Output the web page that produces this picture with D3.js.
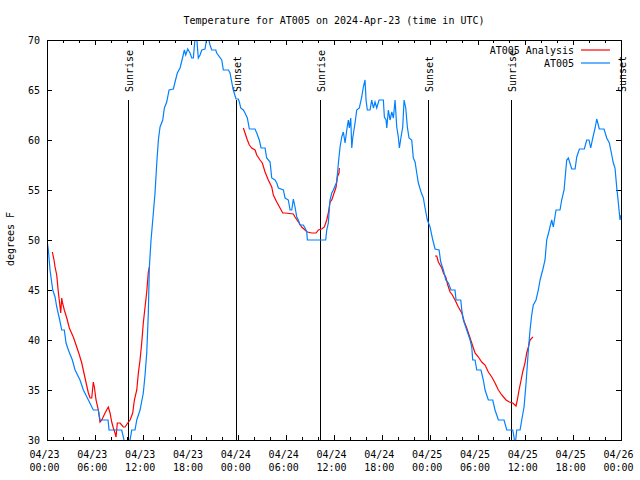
<!DOCTYPE html>
<html><head><meta charset="utf-8">
<script src="https://cdn.jsdelivr.net/npm/d3@7"></script>
<style>
body{margin:0;background:#fff}
text{font-family:"DejaVu Sans Mono","Liberation Mono",monospace;font-size:10px;fill:#000}
</style>
</head><body>
<svg id="c" width="640" height="480"></svg>
<script>
const title = "Temperature for AT005 on 2024-Apr-23 (time in UTC)";
const yLabel = "degrees F";
const seriesNames = ["AT005 Analysis", "AT005"];
const seriesColors = ["#ff0000", "#0080ff"];
const yTicks = [30, 35, 40, 45, 50, 55, 60, 65, 70];
const xTickHours = [0, 6, 12, 18, 24, 30, 36, 42, 48, 54, 60, 66, 72];
const xTickDates = ["04/23","04/23","04/23","04/23","04/24","04/24","04/24","04/24","04/25","04/25","04/25","04/25","04/26"];
const xTickTimes = ["00:00","06:00","12:00","18:00","00:00","06:00","12:00","18:00","00:00","06:00","12:00","18:00","00:00"];
const sunriseHours = [10.2, 34.28, 58.24];
const sunsetHours = [23.75, 47.83, 71.95];

// AT005 observations: hours since 2024-04-23 00:00 UTC, temperature (F)
const obsHours = [0.00,0.17,0.38,0.72,1.01,1.22,1.51,1.85,2.17,2.39,
2.68,3.18,3.52,4.14,4.56,5.19,5.81,6.44,6.65,7.66,
7.78,9.37,9.66,9.91,10.17,10.42,10.63,11.04,11.26,11.67,
12.08,12.30,12.51,12.71,12.84,13.05,13.34,13.55,13.77,13.97,
14.18,14.52,14.72,15.02,15.31,15.85,16.06,16.35,16.69,17.03,
17.23,17.40,17.65,17.94,18.16,18.36,18.57,18.78,18.98,19.20,
19.41,19.82,20.04,20.24,20.45,20.66,21.17,21.29,21.92,22.12,
22.75,22.96,23.17,23.37,23.71,24.00,24.13,24.30,24.62,24.84,
25.13,25.38,26.09,26.31,26.63,26.85,27.35,27.56,27.98,28.19,
28.60,28.82,29.02,29.65,29.86,30.27,30.49,30.70,30.90,31.11,
31.33,31.53,31.74,32.15,32.37,32.58,32.66,34.96,35.09,35.29,
35.50,35.72,35.92,36.34,36.55,36.76,36.97,37.17,37.39,37.60,
37.80,37.93,38.10,38.23,38.35,38.64,38.85,39.18,39.48,39.68,
39.89,40.02,40.18,40.52,40.73,40.94,41.15,41.36,41.65,42.19,
42.32,42.53,42.62,42.82,43.03,43.25,43.45,43.66,43.87,44.07,
44.20,44.41,44.62,44.79,45.00,45.20,45.41,45.75,45.95,46.17,
46.38,46.58,46.92,47.21,47.42,47.71,48.05,48.39,48.46,48.67,
49.18,49.39,49.72,50.02,50.35,50.68,51.18,51.31,51.90,52.03,
52.23,52.65,53.07,53.28,53.40,53.69,53.91,54.44,54.73,54.95,
55.36,55.91,56.20,56.62,57.33,57.67,58.42,58.58,58.71,58.92,
59.34,59.55,59.84,60.09,60.38,60.59,60.80,61.00,61.34,61.63,
61.85,62.18,62.47,62.68,63.01,63.09,63.31,63.51,63.85,64.35,
64.56,64.86,65.19,65.40,65.82,66.24,66.45,66.78,67.40,67.70,
67.99,68.20,68.46,68.75,68.96,69.28,69.87,70.21,70.54,70.84,
71.04,71.25,71.46,71.67,71.79,71.88,72.00];
const obsTemps = [50,49,47,45,44.3,43.3,42.3,41,41,39.7,
39,38,37,36,35,34,33,33,32,32,
31,31,30,29.3,29.3,30,31,31,32,33,
34.7,36.5,38.7,42.7,47.3,50,52.7,54.7,57.7,60,
61.3,62,63.2,63.8,65,65.1,65.8,66.7,67.2,68.3,
69,68.5,69.1,68.7,68.2,68.2,70.2,70.2,68.2,68.5,
69,69.1,70.2,70.2,69.5,69,69,68.7,68,67,
67,66.7,65.8,65,64.1,64.1,63.8,63.2,63,62.7,
62.2,61.1,61.1,60.7,60,59.2,59.2,58.2,57.8,56.2,
56,55.7,55.2,55,54.2,54,53,53,54.1,53.3,
52.3,52,51.5,51.5,51.2,50.8,50,50,51,51.7,
54,54.7,55,55.8,57.7,59.3,60.3,60.8,59.7,61,
62,61.2,62.2,59.2,60.2,61.7,63,63.2,64.3,65.3,
66,64,63,63,64,63.2,63.8,63.2,64,64,
62.3,62,61.2,63,62,62.8,62.2,64,61.3,60.3,
59.2,60.3,61.3,64,63.2,61.3,60.2,60,58.2,57.8,
56.7,55.7,54.8,54.2,53.2,52,51.3,50,49.8,49.1,
49,47.8,47,46,45.7,45,45,44,44,43,
42,41,40,39.3,38,38,37,37,36,35,
34,34,33,32,32,31,31,30.3,29.3,31,
31,32,33.3,35.7,39,41,42.5,43.5,44,45,
46,47,48,50,51,51.3,52,51.3,53,53,
54,55,58,58.2,57.1,57.1,58.3,59.1,59.1,60,
60,59.2,60.2,61.2,62.1,61.1,61.1,60.2,59.7,58.5,
57.7,57.2,55.3,53.7,52.7,52,52.5];

// AT005 Analysis (null = gap between runs)
const anaHours = [0.67,0.88,1.01,1.22,1.42,1.64,1.72,1.85,1.92,2.17,2.48,2.80,3.30,3.73,4.06,4.36,4.77,5.19,5.40,5.61,5.81,5.94,6.15,6.44,6.65,6.87,7.28,7.69,7.91,8.12,8.32,8.53,8.66,8.82,9.16,9.58,9.79,10.13,10.42,10.75,10.96,11.26,11.46,11.67,11.88,12.08,12.30,12.51,12.71,12.84,
  null,
  24.63,24.84,25.13,25.38,25.68,26.10,26.31,26.72,27.01,27.35,27.76,28.19,28.39,28.82,29.23,29.57,29.86,30.90,31.11,31.53,31.95,32.37,32.66,33.21,33.75,34.04,34.46,34.79,35.09,35.29,35.50,35.72,36.01,36.26,36.42,36.63,36.67,
  null,
  48.67,48.89,49.09,49.30,49.52,49.72,50.02,50.27,50.56,50.85,51.18,51.60,52.03,52.35,52.65,53.07,53.36,53.69,54.11,54.53,54.95,55.36,55.79,56.20,56.62,57.04,57.58,57.99,58.42,58.83,59.00,59.21,59.42,59.67,59.96,60.17,60.38,60.59,60.94];
const anaTemps = [48.8,48,47.3,46.5,44.8,43.3,42.7,44.2,43.8,43,42.2,41.2,40.3,39.3,38.5,37.7,36.2,34.7,34.2,34.2,35.8,35.3,34,33,31.8,32,32.7,33.3,32.7,31.8,31.2,30.7,30.3,31.7,31.7,31.3,31.3,31.7,32,32.7,34,35,36.7,38,39.7,41.7,43.3,44.8,46.8,47.3,
  null,
  61.2,60.7,60,59.5,59.2,59,58.5,58,57.7,56.8,56,55.3,54.5,53.8,53.2,52.7,52.7,52.6,52.3,51.8,51.3,51,50.8,50.7,50.7,51,51.1,51.3,52,52.7,53.8,54,54.7,55.3,56.3,56.7,57.2,
  null,
  48.4,48.4,47.8,47.5,47.2,46.7,46.3,45.5,44.8,44.5,44,43.3,42.7,41.8,41.2,40.2,39.5,38.7,38.3,37.8,37.5,36.8,36.3,35.7,35,34.5,34,33.8,33.7,33.4,34,35,35.8,36.8,37.7,38.7,39.3,40,40.3];

const M = {left: 47, right: 621, top: 40, bottom: 440};
const svg = d3.select("#c");
const x = d3.scaleLinear().domain([0, 72]).range([M.left, M.right]);
const y = d3.scaleLinear().domain([30, 70]).range([M.bottom, M.top]);

svg.append("defs").append("clipPath").attr("id", "clip")
  .append("rect").attr("x", M.left).attr("y", M.top)
  .attr("width", M.right - M.left).attr("height", M.bottom - M.top);

// title
svg.append("text").attr("x", 334).attr("y", 24).attr("text-anchor", "middle").text(title);
// y label
svg.append("text").attr("transform", "translate(14,239) rotate(-90)")
  .attr("text-anchor", "middle").text(yLabel);

const g = svg.append("g");
// y ticks (left and right, inward)
yTicks.forEach(v => {
  const yy = Math.round(y(v)) + 0.5;
  g.append("line").attr("x1", M.left).attr("x2", M.left + 5).attr("y1", yy).attr("y2", yy).attr("stroke", "#000");
  g.append("line").attr("x1", M.right - 5).attr("x2", M.right).attr("y1", yy).attr("y2", yy).attr("stroke", "#000");
  svg.append("text").attr("x", 40).attr("y", y(v) + 4).attr("text-anchor", "end").text(v);
});
// x ticks: minor every 2h, major every 6h
d3.range(0, 73, 2).forEach(h => {
  const len = (h % 6 === 0) ? 5 : 3;
  const xx = Math.round(x(h)) + 0.5;
  g.append("line").attr("x1", xx).attr("x2", xx).attr("y1", M.bottom).attr("y2", M.bottom - len).attr("stroke", "#000");
  g.append("line").attr("x1", xx).attr("x2", xx).attr("y1", M.top).attr("y2", M.top + len).attr("stroke", "#000");
});
xTickHours.forEach((h, i) => {
  const t = svg.append("text").attr("text-anchor", "middle");
  t.append("tspan").attr("x", x(h) - 2.5).attr("y", 458).text(xTickDates[i]);
  t.append("tspan").attr("x", x(h) - 2.5).attr("y", 471).text(xTickTimes[i]);
});

// sunrise / sunset markers
const events = sunriseHours.map(h => ({h, label: "Sunrise"}))
  .concat(sunsetHours.map(h => ({h, label: "Sunset"})));
events.forEach(e => {
  const xx = Math.round(x(e.h)) + 0.5;
  svg.append("line").attr("x1", xx).attr("x2", xx).attr("y1", 100).attr("y2", M.bottom)
    .attr("stroke", "#000").attr("stroke-width", 1);
  svg.append("text").attr("transform", `translate(${x(e.h) + 5},92) rotate(-90)`)
    .attr("text-anchor", "start").text(e.label);
});

// data lines
const line = d3.line().defined(d => d[1] !== null).x(d => x(d[0])).y(d => y(d[1]));
const dg = svg.append("g").attr("clip-path", "url(#clip)");
const obs = obsHours.map((h, i) => [h, obsTemps[i]]);
const ana = anaHours.map((h, i) => [h, anaTemps[i]]);
dg.append("path").datum(ana).attr("d", line).attr("fill", "none")
  .attr("stroke", seriesColors[0]).attr("stroke-width", 1.2);
dg.append("path").datum(obs).attr("d", line).attr("fill", "none")
  .attr("stroke", seriesColors[1]).attr("stroke-width", 1.2);

// frame
svg.append("rect").attr("x", M.left + 0.5).attr("y", M.top + 0.5)
  .attr("width", M.right - M.left).attr("height", M.bottom - M.top)
  .attr("fill", "none").attr("stroke", "#000");

// legend
seriesNames.forEach((n, i) => {
  const ly = 50 + i * 13;
  svg.append("text").attr("x", 574).attr("y", ly + 4).attr("text-anchor", "end").text(n);
  svg.append("line").attr("x1", 581).attr("x2", 610).attr("y1", ly).attr("y2", ly)
    .attr("stroke", seriesColors[i]).attr("stroke-width", 1.2);
});
</script>
</body></html>
